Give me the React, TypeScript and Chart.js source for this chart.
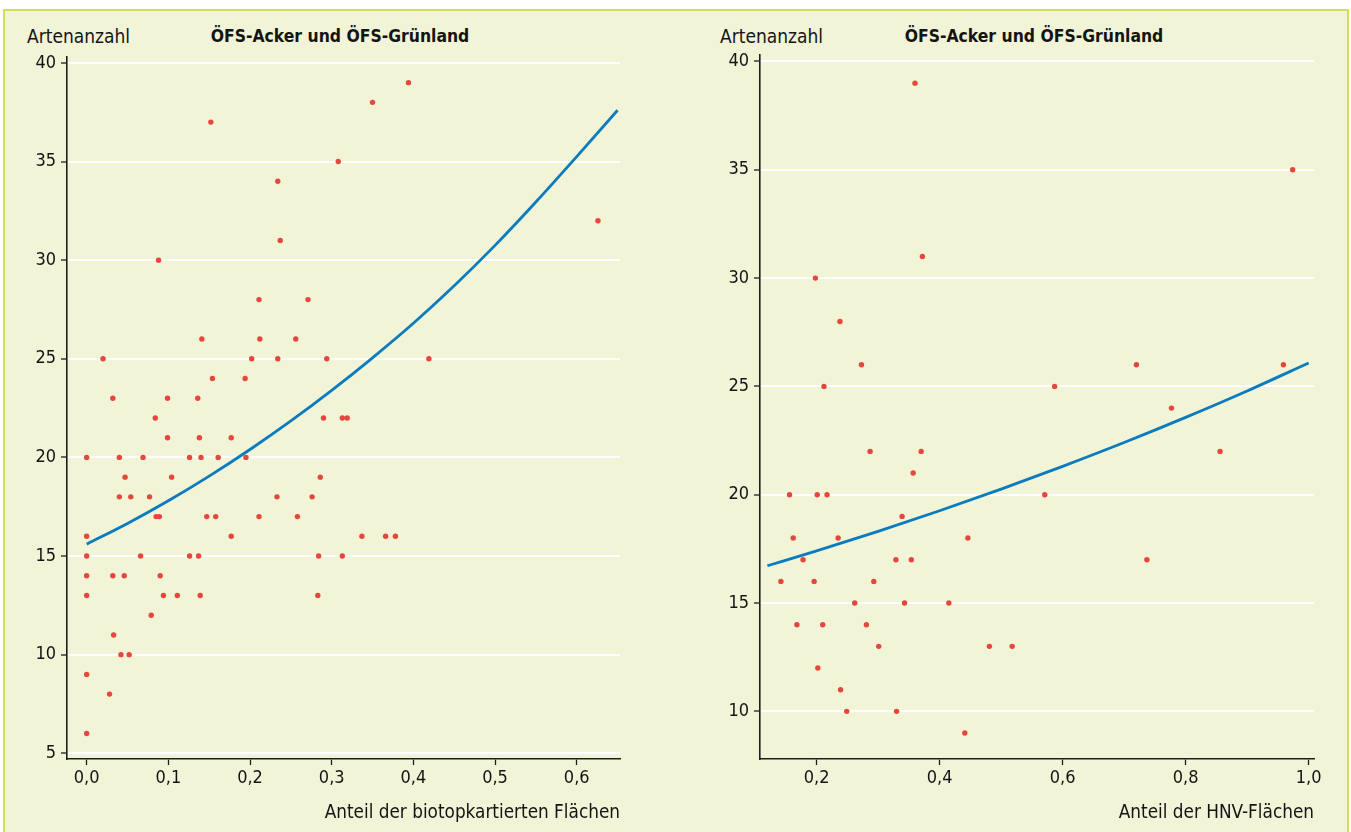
import React, { useEffect, useRef } from 'react';
import { Chart, registerables } from 'chart.js';

Chart.register(...registerables);

const FONT = '"Liberation Sans Narrow", "DejaVu Sans Condensed", "Roboto", sans-serif';

// ---------- Left panel: Anteil der biotopkartierten Flächen ----------
const leftShare = [
  0.394, 0.350, 0.152, 0.308, 0.234, 0.626, 0.237, 0.088,
  0.211, 0.271,
  0.141, 0.212, 0.256,
  0.020, 0.202, 0.234, 0.294, 0.419,
  0.154, 0.194,
  0.032, 0.099, 0.136,
  0.084, 0.290, 0.313, 0.319,
  0.099, 0.138, 0.177,
  0.000, 0.040, 0.069, 0.126, 0.140, 0.161, 0.195,
  0.047, 0.104, 0.286,
  0.040, 0.054, 0.077, 0.233, 0.276,
  0.085, 0.089, 0.147, 0.158, 0.211, 0.258,
  0.000, 0.177, 0.337, 0.366, 0.378,
  0.000, 0.066, 0.126, 0.137, 0.284, 0.313,
  0.000, 0.032, 0.046, 0.090,
  0.000, 0.094, 0.111, 0.139, 0.283,
  0.079, 0.033, 0.042, 0.052, 0.000, 0.028, 0.000,
];
const leftSpecies = [
  39, 38, 37, 35, 34, 32, 31, 30,
  28, 28,
  26, 26, 26,
  25, 25, 25, 25, 25,
  24, 24,
  23, 23, 23,
  22, 22, 22, 22,
  21, 21, 21,
  20, 20, 20, 20, 20, 20, 20,
  19, 19, 19,
  18, 18, 18, 18, 18,
  17, 17, 17, 17, 17, 17,
  16, 16, 16, 16, 16,
  15, 15, 15, 15, 15, 15,
  14, 14, 14, 14,
  13, 13, 13, 13, 13,
  12, 11, 10, 10, 9, 8, 6,
];
const leftFitX = [0.0, 0.05, 0.1, 0.15, 0.2, 0.25, 0.3, 0.35, 0.4, 0.45, 0.5, 0.55, 0.6, 0.65];
const leftFitY = [15.6, 16.65, 17.8, 19.05, 20.4, 21.85, 23.4, 25.05, 26.8, 28.7, 30.75, 32.95, 35.25, 37.6];
const leftXTicks = [0.0, 0.1, 0.2, 0.3, 0.4, 0.5, 0.6];

// ---------- Right panel: Anteil der HNV-Flächen ----------
const rightShare = [
  0.360, 0.974, 0.372, 0.198, 0.238,
  0.273, 0.720, 0.959,
  0.212, 0.587,
  0.777,
  0.287, 0.370, 0.856,
  0.357,
  0.156, 0.201, 0.217, 0.571,
  0.339,
  0.162, 0.235, 0.446,
  0.178, 0.329, 0.354, 0.737,
  0.142, 0.196, 0.293,
  0.262, 0.343, 0.415,
  0.168, 0.210, 0.281,
  0.301, 0.481, 0.518,
  0.202, 0.239, 0.249, 0.330, 0.441,
];
const rightSpecies = [
  39, 35, 31, 30, 28,
  26, 26, 26,
  25, 25,
  24,
  22, 22, 22,
  21,
  20, 20, 20, 20,
  19,
  18, 18, 18,
  17, 17, 17, 17,
  16, 16, 16,
  15, 15, 15,
  14, 14, 14,
  13, 13, 13,
  12, 11, 10, 10, 9,
];
const rightFitX = [0.12, 0.2, 0.3, 0.4, 0.5, 0.6, 0.7, 0.8, 0.9, 1.0];
const rightFitY = [16.72, 17.41, 18.31, 19.26, 20.26, 21.31, 22.41, 23.57, 24.79, 26.08];
const rightXTicks = [0.2, 0.4, 0.6, 0.8, 1.0];

const yTicks = [5, 10, 15, 20, 25, 30, 35, 40];
const rightYTicks = [10, 15, 20, 25, 30, 35, 40];

const yLabel = 'Artenanzahl';
const chartTitle = 'ÖFS-Acker und ÖFS-Grünland';
const leftXLabel = 'Anteil der biotopkartierten Flächen';
const rightXLabel = 'Anteil der HNV-Flächen';

const DOT = '#e6463b';
const LINE = '#0a7bbf';
const AXIS = '#1e1e1e';
const TEXT = '#141414';

type PanelProps = {
  xs: number[];
  ys: number[];
  fitX: number[];
  fitY: number[];
  xTicks: number[];
  yT: number[];
  xMin: number;
  xMax: number;
  yMin: number;
  yMax: number;
  yAxisWidth: number;
  padTop: number;
  padRight: number;
  xLabel: string;
  width: number;
  height: number;
  left: number;
};

function Panel(p: PanelProps) {
  const ref = useRef<HTMLCanvasElement | null>(null);
  useEffect(() => {
    if (!ref.current) return;
    const points = p.xs.map((x, i) => ({ x, y: p.ys[i] }));
    const fit = p.fitX.map((x, i) => ({ x, y: p.fitY[i] }));
    const chart = new Chart(ref.current, {
      type: 'scatter',
      data: {
        datasets: [
          {
            type: 'line',
            data: fit,
            borderColor: LINE,
            borderWidth: 2.8,
            pointRadius: 0,
            fill: false,
            cubicInterpolationMode: 'monotone',
            showLine: true,
          } as any,
          {
            type: 'scatter',
            data: points,
            backgroundColor: DOT,
            borderWidth: 0,
            pointRadius: 2.7,
          } as any,
        ],
      },
      options: {
        animation: false,
        responsive: false,
        devicePixelRatio: 1,
        layout: { padding: { top: p.padTop, right: p.padRight, left: 0, bottom: 0 } },
        plugins: { legend: { display: false }, tooltip: { enabled: false }, title: { display: false } },
        scales: {
          x: {
            type: 'linear',
            min: p.xMin,
            max: p.xMax,
            afterBuildTicks: (s: any) => {
              s.ticks = p.xTicks.map((v) => ({ value: v }));
            },
            afterFit: (s: any) => {
              s.height = 832 - 759;
            },
            ticks: {
              callback: (v: any) => Number(v).toFixed(1).replace('.', ','),
              font: { family: FONT, size: 18 },
              color: TEXT,
              padding: 3,
              maxRotation: 0,
              autoSkip: false,
            },
            grid: {
              drawOnChartArea: false,
              drawTicks: true,
              tickLength: 6,
              tickColor: AXIS,
              tickWidth: 1.3,
            },
            border: { color: AXIS, width: 1.6 },
            title: {
              display: true,
              text: p.xLabel,
              align: 'end',
              font: { family: FONT, size: 18.8 },
              color: TEXT,
              padding: { top: 4, bottom: 8 },
            },
          },
          y: {
            type: 'linear',
            min: p.yMin,
            max: p.yMax,
            afterBuildTicks: (s: any) => {
              s.ticks = p.yT.map((v) => ({ value: v }));
            },
            afterFit: (s: any) => {
              s.width = p.yAxisWidth;
            },
            ticks: {
              font: { family: FONT, size: 18 },
              color: TEXT,
              padding: 5,
              autoSkip: false,
            },
            grid: {
              color: '#ffffff',
              lineWidth: 2,
              drawTicks: true,
              tickLength: 6,
              tickColor: AXIS,
              tickWidth: 1.3,
            },
            border: { color: AXIS, width: 1.6 },
          },
        },
      } as any,
    });
    return () => chart.destroy();
  }, []);
  return (
    <canvas
      ref={ref}
      width={p.width}
      height={p.height}
      style={{ position: 'absolute', left: p.left, top: 0, width: p.width, height: p.height }}
    />
  );
}

const textBase: React.CSSProperties = {
  position: 'absolute',
  fontFamily: FONT,
  fontSize: 19,
  color: TEXT,
  whiteSpace: 'nowrap',
  lineHeight: '20px',
};

export default function App() {
  return (
    <div
      style={{
        position: 'fixed',
        left: 0,
        top: 0,
        width: 1351,
        height: 832,
        overflow: 'hidden',
        background: '#ffffff',
      }}
    >
      <div
        style={{
          position: 'absolute',
          left: 3,
          top: 9,
          width: 1346,
          height: 900,
          boxSizing: 'border-box',
          border: '2.5px solid #d3df4c',
          background: '#f1f4d6',
        }}
      />
      <div style={{ ...textBase, left: 27, top: 26 }}>{yLabel}</div>
      <div
        style={{
          ...textBase,
          left: 340,
          top: 26,
          fontSize: 17.4,
          fontWeight: 'bold',
          transform: 'translateX(-50%)',
        }}
      >
        {chartTitle}
      </div>
      <div style={{ ...textBase, left: 720, top: 26 }}>{yLabel}</div>
      <div
        style={{
          ...textBase,
          left: 1034,
          top: 26,
          fontSize: 17.4,
          fontWeight: 'bold',
          transform: 'translateX(-50%)',
        }}
      >
        {chartTitle}
      </div>
      <Panel
        xs={leftShare}
        ys={leftSpecies}
        fitX={leftFitX}
        fitY={leftFitY}
        xTicks={leftXTicks}
        yT={yTicks}
        xMin={-0.0241}
        xMax={0.653}
        yMin={4.71}
        yMax={40.3}
        yAxisWidth={67}
        padTop={57}
        padRight={60}
        xLabel={leftXLabel}
        width={680}
        height={832}
        left={0}
      />
      <Panel
        xs={rightShare}
        ys={rightSpecies}
        fitX={rightFitX}
        fitY={rightFitY}
        xTicks={rightXTicks}
        yT={rightYTicks}
        xMin={0.108}
        xMax={1.0087}
        yMin={7.8}
        yMax={40.3}
        yAxisWidth={80}
        padTop={55}
        padRight={37}
        xLabel={rightXLabel}
        width={671}
        height={832}
        left={680}
      />
    </div>
  );
}
